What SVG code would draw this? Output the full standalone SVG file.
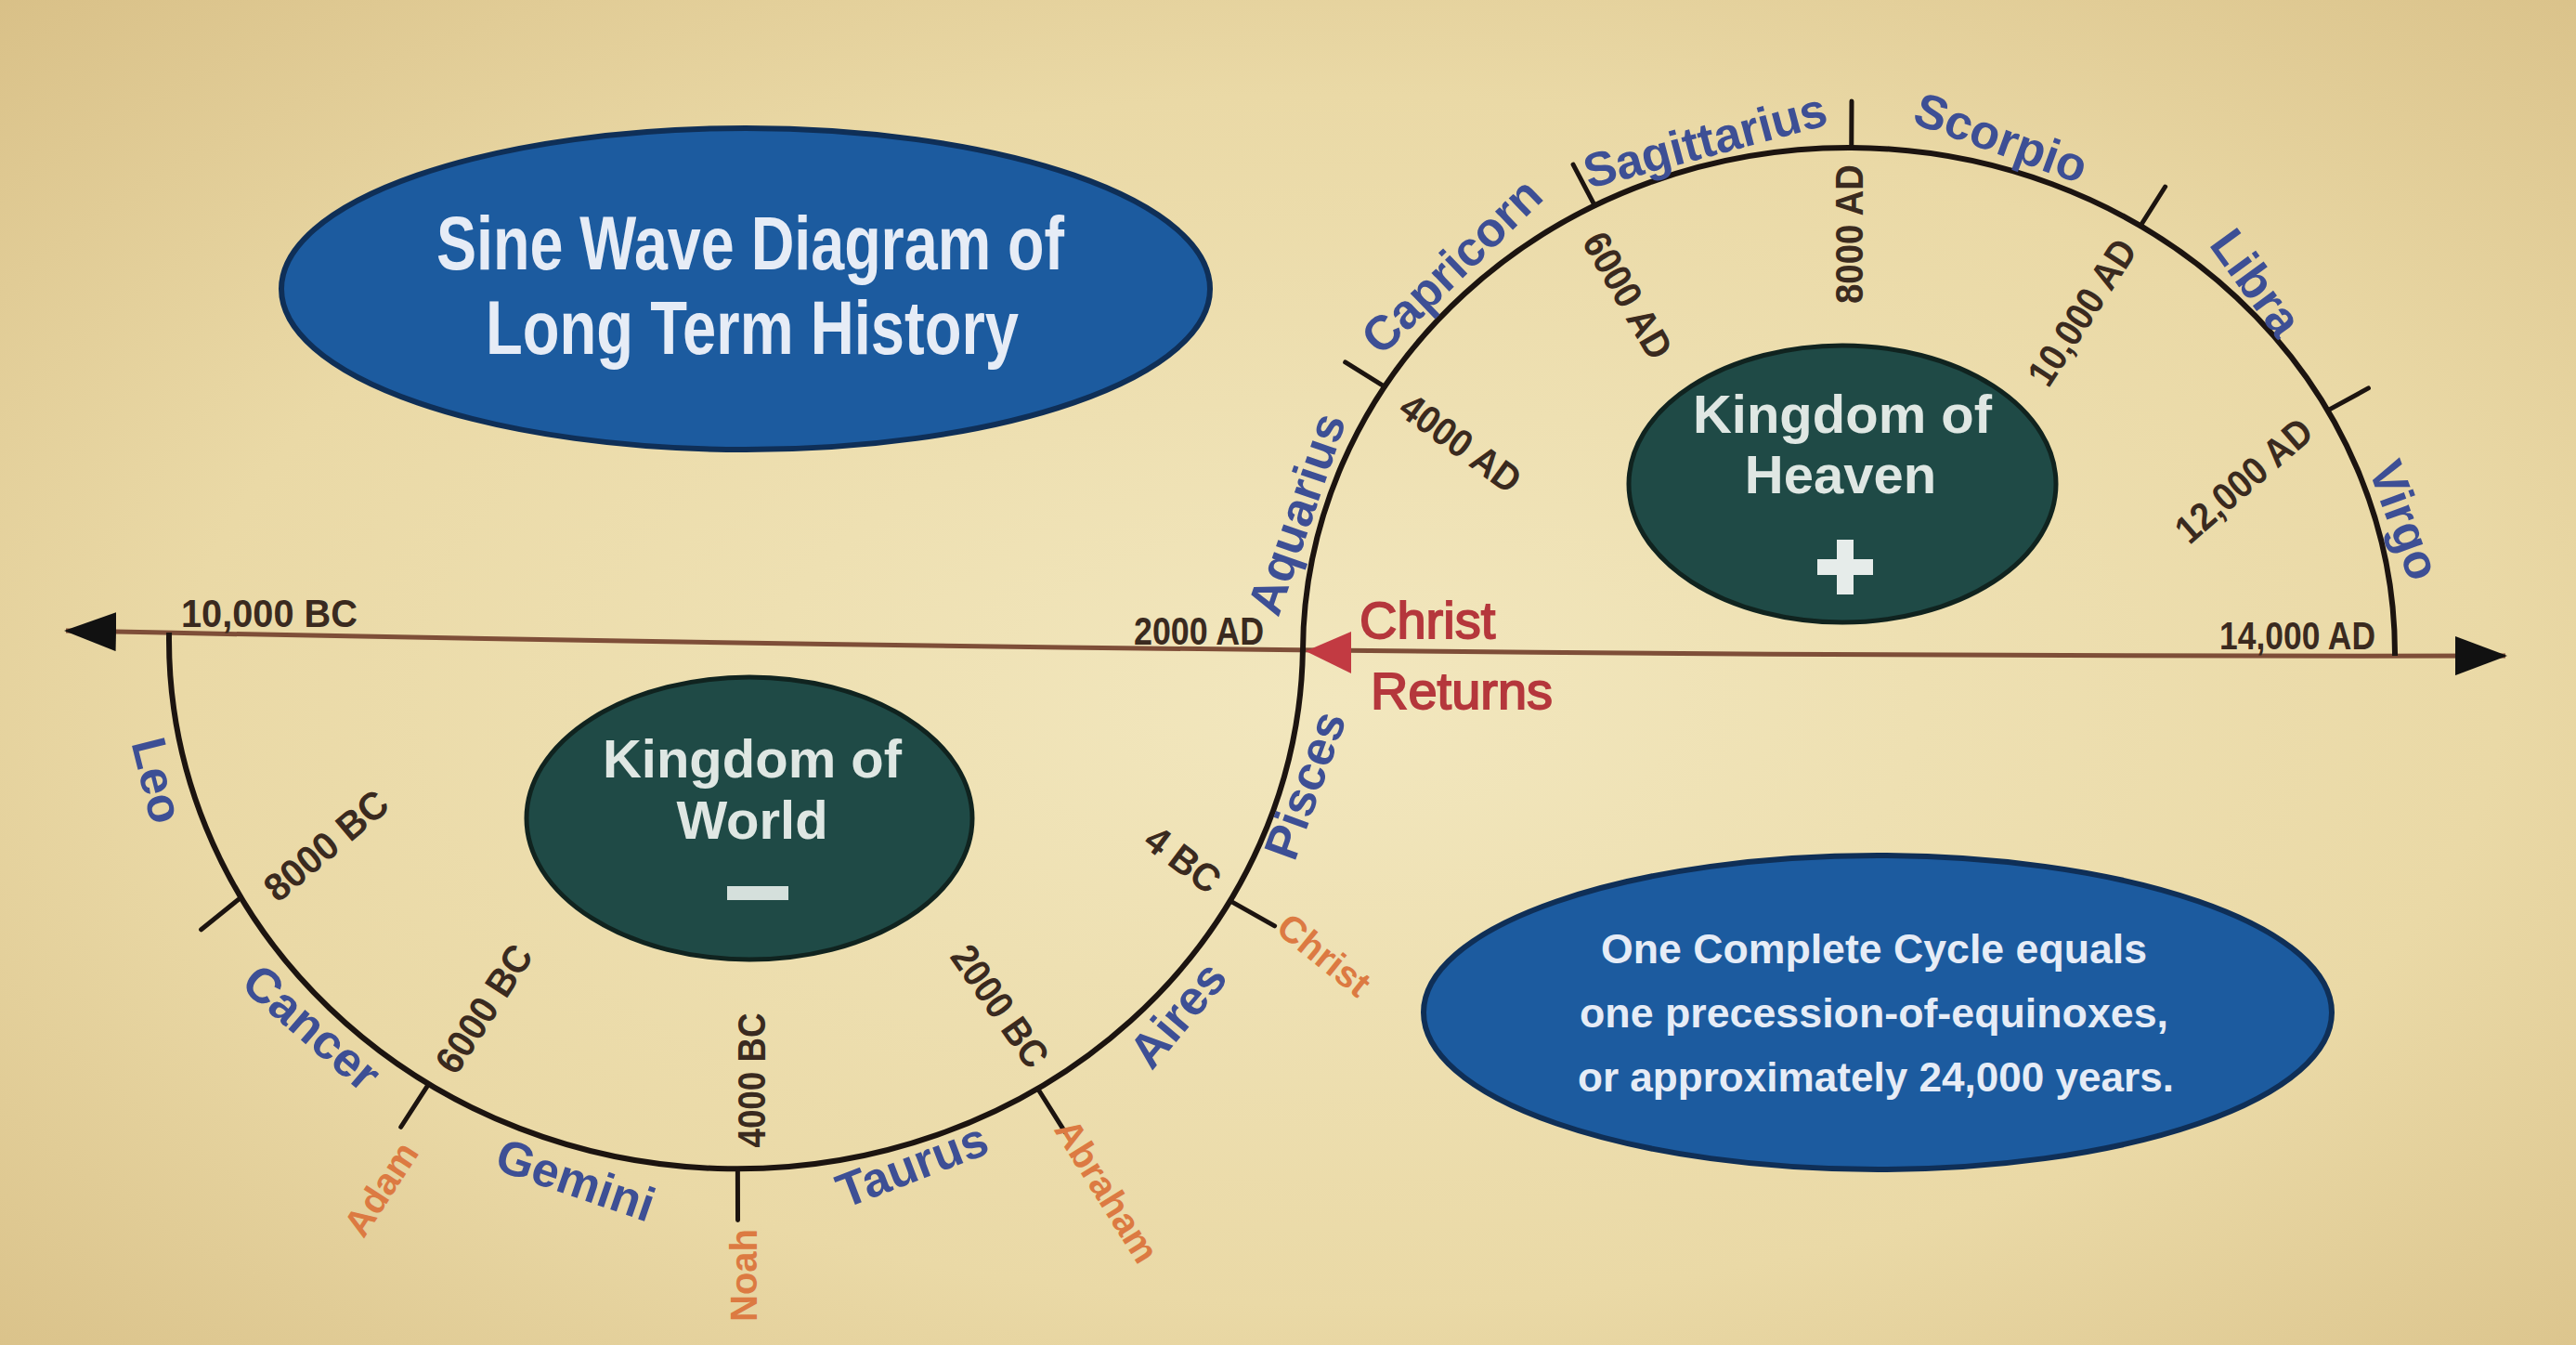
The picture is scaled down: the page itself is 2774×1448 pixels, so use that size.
<svg xmlns="http://www.w3.org/2000/svg" width="2774" height="1448" viewBox="0 0 2774 1448">
<defs>
<radialGradient id="bg" cx="0.52" cy="0.52" r="0.75">
<stop offset="0" stop-color="#f2e7be"/>
<stop offset="0.6" stop-color="#ead9a6"/>
<stop offset="1" stop-color="#d8bf86"/>
</radialGradient>
<marker id="arrow" markerUnits="userSpaceOnUse" markerWidth="58" markerHeight="42" refX="54" refY="21" orient="auto-start-reverse">
<path d="M0,0 L56,21 L0,42 Z" fill="#111"/>
</marker>
<style>
.arc{fill:none;stroke:#1c1410;stroke-width:6}
.tick{stroke:#1c1410;stroke-width:5;stroke-linecap:round}
.z{font-family:"Liberation Sans",Arial,sans-serif;font-weight:bold;font-size:52px;fill:#3d4f95;text-anchor:middle}
.d{font-family:"Liberation Sans",Arial,sans-serif;font-weight:bold;font-size:42px;fill:#3a2a1f;text-anchor:middle}
.o{font-family:"Liberation Sans",Arial,sans-serif;font-weight:bold;font-size:40px;fill:#dc7a42;text-anchor:middle}
.k{font-family:"Liberation Sans",Arial,sans-serif;font-weight:bold;font-size:58px;fill:#dfe7e3;text-anchor:middle}
.b{font-family:"Liberation Sans",Arial,sans-serif;font-weight:bold;fill:#e6ecf6;text-anchor:middle}
.r{font-family:"Liberation Sans",Arial,sans-serif;font-size:56px;fill:#b5373c;stroke:#b5373c;stroke-width:1.8}
.blue{fill:#1c5b9f;stroke:#0f2f57;stroke-width:6}
.teal{fill:#1f4a46;stroke:#10231f;stroke-width:5}
</style>
</defs>
<rect width="2774" height="1448" fill="url(#bg)"/>

<g id="title">
<ellipse class="blue" cx="803" cy="311" rx="500" ry="173"/>
<text class="b" x="808" y="290" font-size="82" textLength="676" lengthAdjust="spacingAndGlyphs">Sine Wave Diagram of</text>
<text class="b" x="810" y="381" font-size="82" textLength="574" lengthAdjust="spacingAndGlyphs">Long Term History</text>
</g>

<g id="kingdom-world">
<ellipse class="teal" cx="807" cy="881" rx="240" ry="152"/>
<text class="k" x="810" y="837">Kingdom of</text>
<text class="k" x="810" y="903">World</text>
<rect x="783" y="954" width="66" height="15" fill="#d5e0dc"/>
</g>

<g id="kingdom-heaven">
<ellipse class="teal" cx="1984" cy="521" rx="230" ry="149"/>
<text class="k" x="1984" y="466">Kingdom of</text>
<text class="k" x="1982" y="531">Heaven</text>
<path d="M1978,581 h18 v21 h21 v17 h-21 v21 h-18 v-21 h-21 v-17 h21 Z" fill="#e6ecea"/>
</g>

<g id="cycle-note">
<ellipse class="blue" cx="2022" cy="1090" rx="489" ry="169"/>
<text class="b" x="2018" y="1037" font-size="44" fill="#d3def0" textLength="588" lengthAdjust="spacingAndGlyphs">One Complete Cycle equals</text>
<text class="b" x="2018" y="1106" font-size="44" textLength="634" lengthAdjust="spacingAndGlyphs">one precession-of-equinoxes,</text>
<text class="b" x="2020" y="1175" font-size="44" textLength="642" lengthAdjust="spacingAndGlyphs">or approximately 24,000 years.</text>
</g>

<g id="connectors">
<path id="axis" d="M71,679 Q1500,708 2698,706" fill="none" stroke="#7e4e38" stroke-width="5" marker-start="url(#arrow)" marker-end="url(#arrow)"/>
<g id="lower-arc" transform="rotate(0.89 792.5 690.5)">
<path class="arc" d="M182,690.5 A610.5,568 0 0 0 1403,690.5"/>
<line class="tick" x1="263.8" y1="974.5" x2="221.5" y2="1009.7"/>
<line class="tick" x1="469" y1="1172.2" x2="439.9" y2="1218.8"/>
<line class="tick" x1="803.2" y1="1258.4" x2="804.2" y2="1313.4"/>
<line class="tick" x1="1125" y1="1166.9" x2="1155" y2="1213"/>
<line class="tick" x1="1329" y1="961.6" x2="1377.3" y2="987.8"/>
</g>
<g id="upper-arc" transform="rotate(0.29 1991 703)">
<path class="arc" d="M1403,703 A588,544 0 0 1 2579,703"/>
<line class="tick" x1="1489.7" y1="418.8" x2="1447.1" y2="392.7"/>
<line class="tick" x1="1714.9" y1="222.7" x2="1691.4" y2="178.6"/>
<line class="tick" x1="1991" y1="159" x2="1991" y2="109"/>
<line class="tick" x1="2302.6" y1="241.7" x2="2329.1" y2="199.3"/>
<line class="tick" x1="2505.3" y1="439.3" x2="2549" y2="415.1"/>
</g>
<polygon id="return-arrow" points="1406,701 1455,680 1455,725" fill="#c23a42"/>
</g>

<g id="zodiac">
<text class="z" transform="translate(170,840) rotate(76)" dy="0.35em">Leo</text>
<text class="z" transform="translate(336,1106) rotate(41)" dy="0.35em">Cancer</text>
<text class="z" transform="translate(620,1270) rotate(19)" dy="0.35em">Gemini</text>
<text class="z" transform="translate(982,1254) rotate(-21)" dy="0.35em">Taurus</text>
<text class="z" transform="translate(1268,1092) rotate(-50)" dy="0.35em">Aires</text>
<text class="z" transform="translate(1405,845) rotate(-70)" dy="0.35em">Pisces</text>
<text class="z" transform="translate(1396,553) rotate(-71)" dy="0.35em">Aquarius</text>
<text class="z" transform="translate(1563,286) rotate(-44)" dy="0.35em">Capricorn</text>
<text class="z" transform="translate(1836,151) rotate(-15)" dy="0.35em">Sagittarius</text>
<text class="z" transform="translate(2155,148) rotate(20)" dy="0.35em">Scorpio</text>
<text class="z" transform="translate(2430,304) rotate(54)" dy="0.35em">Libra</text>
<text class="z" transform="translate(2590,560) rotate(70)" dy="0.35em">Virgo</text>
</g>

<g id="dates">
<text class="d" x="290" y="675" textLength="190" lengthAdjust="spacingAndGlyphs">10,000 BC</text>
<text class="d" x="1291" y="694" textLength="140" lengthAdjust="spacingAndGlyphs">2000 AD</text>
<text class="d" x="2474" y="699" textLength="168" lengthAdjust="spacingAndGlyphs">14,000 AD</text>
<text class="d" transform="translate(351,910) rotate(-40)" dy="0.35em" textLength="160" lengthAdjust="spacingAndGlyphs">8000 BC</text>
<text class="d" transform="translate(521,1086) rotate(-57)" dy="0.35em" textLength="155" lengthAdjust="spacingAndGlyphs">6000 BC</text>
<text class="d" transform="translate(809,1163) rotate(-90)" dy="0.35em" textLength="145" lengthAdjust="spacingAndGlyphs">4000 BC</text>
<text class="d" transform="translate(1077,1083) rotate(55)" dy="0.35em" textLength="150" lengthAdjust="spacingAndGlyphs">2000 BC</text>
<text class="d" transform="translate(1274,925) rotate(37)" dy="0.35em" textLength="90" lengthAdjust="spacingAndGlyphs">4 BC</text>
<text class="d" transform="translate(1573,477) rotate(36)" dy="0.35em" textLength="150" lengthAdjust="spacingAndGlyphs">4000 AD</text>
<text class="d" transform="translate(1753,318) rotate(60)" dy="0.35em" textLength="150" lengthAdjust="spacingAndGlyphs">6000 AD</text>
<text class="d" transform="translate(1991,252) rotate(-90)" dy="0.35em" textLength="150" lengthAdjust="spacingAndGlyphs">8000 AD</text>
<text class="d" transform="translate(2242,336) rotate(-57)" dy="0.35em" textLength="178" lengthAdjust="spacingAndGlyphs">10,000 AD</text>
<text class="d" transform="translate(2416,517) rotate(-41)" dy="0.35em" textLength="180" lengthAdjust="spacingAndGlyphs">12,000 AD</text>
</g>

<g id="people">
<text class="o" transform="translate(410,1280) rotate(-57)" dy="0.35em">Adam</text>
<text class="o" transform="translate(801,1373) rotate(-90)" dy="0.35em">Noah</text>
<text class="o" transform="translate(1192,1282) rotate(58)" dy="0.35em">Abraham</text>
<text class="o" transform="translate(1426,1028) rotate(39)" dy="0.35em">Christ</text>
</g>

<g id="christ-returns">
<text class="r" x="1464" y="687">Christ</text>
<text class="r" x="1476" y="763">Returns</text>
</g>
</svg>
